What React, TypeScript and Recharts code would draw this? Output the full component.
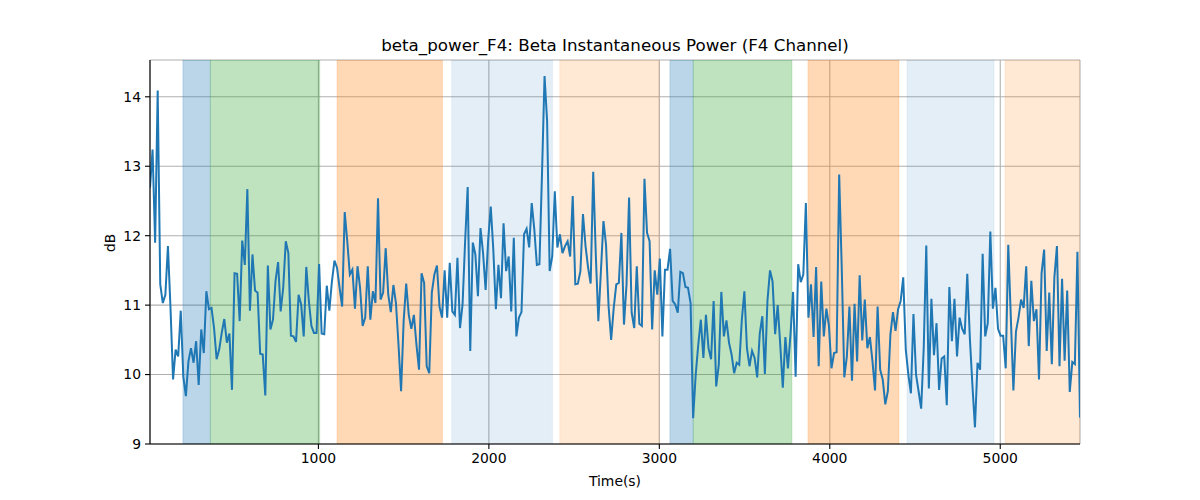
import { LineChart, Line, XAxis, YAxis, CartesianGrid, ReferenceArea, Label } from "recharts";

// sample times: first sample and the sampling interval (s)
const START_TIME = 12;
const SAMPLE_STEP = 15.03;

// beta instantaneous power, dB
const betaPower = [
  12.69, 13.24, 11.9, 14.09, 11.3, 11.03, 11.15, 11.85, 10.96, 9.93,
  10.36, 10.26, 10.92, 9.97, 9.69, 10.19, 10.38, 10.17, 10.48, 9.85,
  10.65, 10.31, 11.2, 10.94, 10.96, 10.67, 10.22, 10.36, 10.6, 10.8,
  10.46, 10.59, 9.78, 11.46, 11.45, 10.77, 11.93, 11.58, 12.67, 10.92,
  11.73, 11.21, 11.18, 10.3, 10.29, 9.7, 11.57, 10.65, 10.79, 11.35,
  11.62, 10.91, 11.25, 11.92, 11.75, 10.56, 10.55, 10.47, 11.15, 11.01,
  10.55, 11.55, 11.06, 10.7, 10.6, 10.6, 11.59, 10.59, 10.58, 11.28,
  10.92, 11.34, 11.64, 11.54, 11.25, 10.98, 12.34, 11.92, 11.44, 11.51,
  10.95, 11.56, 11.25, 10.7, 10.82, 11.56, 10.79, 11.2, 11.03, 12.54,
  11.08, 11.18, 11.82, 11.15, 10.9, 11.29, 11.03, 10.43, 9.76, 10.77,
  11.31, 10.86, 10.66, 10.86, 10.43, 10.07, 11.46, 11.32, 10.12, 10.02,
  11.18, 11.44, 11.57, 10.98, 10.82, 11.5, 10.82, 11.61, 10.91, 10.86,
  11.68, 10.67, 11.01, 11.92, 12.7, 10.34, 11.9, 11.73, 11.13, 12.11,
  11.75, 11.22, 11.94, 12.42, 11.8, 10.94, 11.58, 11.1, 12.18, 11.49,
  11.7, 10.91, 11.97, 10.55, 10.82, 10.9, 12.02, 12.1, 11.83, 12.47,
  12.09, 11.58, 11.59, 12.88, 14.3, 13.65, 11.49, 11.7, 12.64, 11.83,
  12.02, 11.75, 11.85, 11.92, 11.7, 12.57, 11.3, 11.31, 11.49, 12.31,
  11.85, 11.54, 11.31, 12.92, 11.73, 10.77, 11.49, 12.21, 11.87, 10.98,
  10.5, 10.96, 11.3, 11.32, 12.04, 10.72, 11.3, 12.55, 10.89, 10.67,
  11.56, 10.73, 10.7, 12.82, 12.04, 11.92, 10.65, 11.5, 11.15, 11.67,
  10.55, 11.51, 11.51, 11.81, 11.06, 11.01, 10.89, 11.48, 11.46, 11.26,
  11.25, 11.03, 9.37, 10.0, 10.43, 10.79, 10.24, 10.86, 10.38, 10.22,
  11.06, 9.83, 10.14, 11.19, 10.55, 10.78, 10.46, 10.29, 10.02, 10.17,
  10.14, 10.79, 11.2, 10.38, 10.12, 10.34, 10.24, 9.96, 10.59, 10.84,
  10.01, 11.06, 11.5, 11.34, 10.58, 11.0, 10.43, 9.81, 10.54, 10.09,
  10.58, 11.19, 9.97, 11.59, 11.33, 11.44, 12.47, 10.82, 11.3, 10.54,
  11.55, 10.12, 11.34, 10.55, 10.95, 10.7, 10.09, 10.31, 10.32, 12.88,
  11.54, 9.96, 10.26, 10.98, 9.91, 11.02, 10.19, 11.43, 10.49, 11.08,
  10.38, 10.54, 10.19, 9.77, 10.98, 10.07, 9.93, 9.57, 9.76, 10.58,
  10.9, 10.63, 10.94, 11.06, 11.4, 10.36, 10.0, 9.73, 10.87, 10.0,
  9.76, 9.51, 10.38, 11.86, 9.8, 11.09, 10.28, 10.74, 9.78, 10.23,
  10.26, 9.56, 11.26, 10.48, 11.09, 10.26, 10.82, 10.66, 10.58, 11.45,
  10.53, 9.85, 9.24, 10.17, 10.07, 11.74, 10.55, 10.74, 12.06, 10.95,
  11.25, 10.66, 10.56, 10.56, 10.09, 11.87, 10.82, 9.77, 10.62, 10.82,
  11.08, 10.96, 11.56, 10.41, 11.35, 10.77, 10.94, 9.93, 11.46, 11.8,
  10.34, 11.18, 10.15, 11.4, 11.85, 10.12, 11.38, 10.2, 11.21, 9.75,
  10.18, 10.15, 11.77, 9.38,
];

// shaded segments (s)
const regionStart = [205, 366, 1109, 1782, 2416, 3062, 3199, 3872, 4453, 5028];
const regionEnd = [366, 1008, 1728, 2373, 2999, 3199, 3778, 4406, 4964, 5470];
const regionColor = [
  "#1f77b4", "#2ca02c", "#ff7f0e", "#1f77b4", "#ff7f0e",
  "#1f77b4", "#2ca02c", "#ff7f0e", "#1f77b4", "#ff7f0e",
];
const regionAlpha = [0.3, 0.3, 0.3, 0.12, 0.18, 0.3, 0.3, 0.3, 0.12, 0.18];

const xTicks = [1000, 2000, 3000, 4000, 5000];
const yTicks = [9, 10, 11, 12, 13, 14];

const data = betaPower.map((v, i) => ({ t: START_TIME + i * SAMPLE_STEP, v }));
const tMin = data[0].t;
const tMax = data[data.length - 1].t;

const FONT = "DejaVu Sans";
const tickStyle = { fill: "#000", fontSize: 13.9, fontFamily: FONT };
const axisStroke = { stroke: "#000", strokeWidth: 1.1 };

export default function App() {
  return (
    <div style={{ position: "absolute", left: 0, top: 0, width: 1200, height: 500, background: "#fff" }}>
      <LineChart
        width={1200}
        height={500}
        data={data}
        margin={{ top: 60, right: 120, bottom: 12, left: 100 }}
      >
        <CartesianGrid stroke="#b0b0b0" strokeWidth={1.1} />
        {regionStart.map((s, i) => (
          <ReferenceArea
            key={i}
            x1={s}
            x2={regionEnd[i]}
            fill={regionColor[i]}
            fillOpacity={regionAlpha[i]}
            stroke={regionColor[i]}
            strokeOpacity={regionAlpha[i] * 0.6}
            ifOverflow="hidden"
          />
        ))}
        <XAxis
          dataKey="t"
          type="number"
          domain={[tMin, tMax]}
          ticks={xTicks}
          height={44}
          tick={tickStyle}
          tickSize={5}
          tickMargin={4}
          tickLine={axisStroke}
          axisLine={axisStroke}
          allowDataOverflow
        >
          <Label value="Time(s)" position="insideBottom" offset={2} fill="#000" fontSize={13.9} fontFamily={FONT} />
        </XAxis>
        <XAxis
          xAxisId="top"
          orientation="top"
          dataKey="t"
          type="number"
          domain={[tMin, tMax]}
          height={0}
          tick={false}
          tickLine={false}
          axisLine={axisStroke}
        />
        <YAxis
          type="number"
          domain={[9, 14.53]}
          ticks={yTicks}
          width={50}
          tick={tickStyle}
          tickSize={5}
          tickMargin={4}
          tickLine={axisStroke}
          axisLine={axisStroke}
          allowDataOverflow
        >
          <Label value="dB" angle={-90} position="insideLeft" offset={10} fill="#000" fontSize={13.9} fontFamily={FONT} />
        </YAxis>
        <YAxis
          yAxisId="right"
          orientation="right"
          domain={[9, 14.53]}
          width={0}
          tick={false}
          tickLine={false}
          axisLine={axisStroke}
        />
        <Line
          dataKey="v"
          stroke="#1f77b4"
          strokeWidth={2}
          dot={false}
          activeDot={false}
          isAnimationActive={false}
        />
      </LineChart>
      <svg width={1200} height={60} style={{ position: "absolute", left: 0, top: 0 }}>
        <text x={615} y={51} textAnchor="middle" fontSize={16.7} fontFamily={FONT} fill="#000">
          beta_power_F4: Beta Instantaneous Power (F4 Channel)
        </text>
      </svg>
    </div>
  );
}
